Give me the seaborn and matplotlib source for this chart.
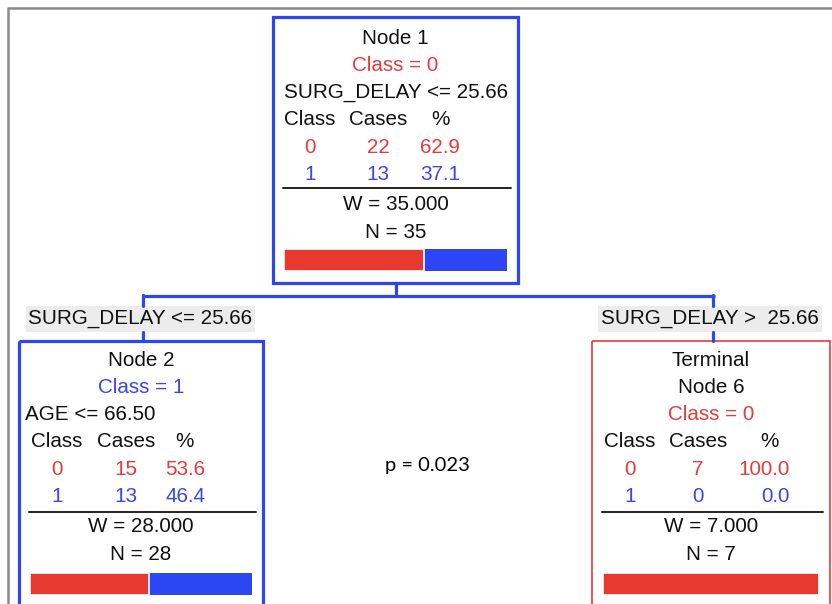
import pandas as pd
import seaborn as sns
import matplotlib.pyplot as plt
from matplotlib.patches import Rectangle

# values
node_heads = [["Node 1", "Class = 0", "SURG_DELAY <= 25.66"],
              ["Node 2", "Class = 1", "AGE <= 66.50"],
              ["Terminal", "Node 6", "Class = 0"]]
classes = ["0", "1"]
cases_0 = [22, 15, 7]
cases_1 = [13, 13, 0]
pct_0 = [62.9, 53.6, 100.0]
pct_1 = [37.1, 46.4, 0.0]
weights = [35.000, 28.000, 7.000]
n_cases = [35, 28, 7]
branch_labels = ["SURG_DELAY <= 25.66", "SURG_DELAY >  25.66"]
p_label = "p = 0.023"

RED = "#E8392F"
BLUE = "#2C46F4"
TXT_RED = "#E83A3A"
TXT_BLUE = "#3B45F0"

sns.set_theme(style="white")
plt.rcParams["font.family"] = ["Liberation Sans", "DejaVu Sans"]

W, H = 832, 604
fig = plt.figure(figsize=(W / 100, H / 100), dpi=100)
ax = fig.add_axes([0, 0, 1, 1])
ax.set_xlim(0, W)
ax.set_ylim(H, 0)
ax.axis("off")

# layout of each node box: left, top, right, bottom, edge colour, edge width, text shift
boxes = [(273, 17, 518, 283, BLUE, 2.3, 2),
         (19, 341, 263, 612, BLUE, 2.3, 0),
         (592, 341, 830, 612, "#E8393A", 1.2, 0)]
# column centres (offset from box left) for Class, Cases, right edge of %, % header
cols = [(37, 378 - 273, 187, 440 - 273),
        (38, 126 - 19, 186, 184 - 19),
        (38, 698 - 592, 198, 769 - 592)]
head_colors = [["#111111", TXT_RED, "#111111"],
               ["#111111", TXT_BLUE, "#111111"],
               ["#111111", "#111111", TXT_RED]]
head_align = [["center"] * 3, ["center", "center", "left"], ["center"] * 3]
fs = 14.9

# outer frame
ax.plot([7.5, 7.5, W], [H, 7.5, 7.5], color="#8a8a8a", lw=1.8, solid_capstyle="butt")

for i, (l, t, r, b, ec, lw, sh) in enumerate(boxes):
    ax.add_patch(Rectangle((l, t), r - l, b - t, fill=False, ec=ec, lw=lw))
    cx = (l + r) / 2
    tt = t + sh
    c_cls, c_cases, c_pct_r, c_pct_head = cols[i]
    for k, txt in enumerate(node_heads[i]):
        y = tt + 19 + 27.3 * k
        if head_align[i][k] == "left":
            ax.text(l + 6, y, txt, ha="left", va="center", fontsize=fs, color=head_colors[i][k])
        else:
            ax.text(cx, y, txt, ha="center", va="center", fontsize=fs, color=head_colors[i][k])
    y_hdr = tt + 19 + 27.3 * 3
    ax.text(l + c_cls, y_hdr, "Class", ha="center", va="center", fontsize=fs, color="#111111")
    ax.text(l + c_cases, y_hdr, "Cases", ha="center", va="center", fontsize=fs, color="#111111")
    ax.text(l + c_pct_head, y_hdr, "%", ha="center", va="center", fontsize=fs, color="#111111")
    rows = [(classes[0], cases_0[i], pct_0[i], TXT_RED), (classes[1], cases_1[i], pct_1[i], TXT_BLUE)]
    for k, (cl, n, p, col) in enumerate(rows):
        y = tt + 19 + 27.3 * (4 + k)
        ax.text(l + c_cls, y, cl, ha="center", va="center", fontsize=fs, color=col)
        ax.text(l + c_cases, y, f"{n}", ha="center", va="center", fontsize=fs, color=col)
        ax.text(l + c_pct_r, y, f"{p:.1f}", ha="right", va="center", fontsize=fs, color=col)
    ax.plot([l + 10, r - 7], [t + 171, t + 171], color="#222222", lw=1.4)
    ax.text(cx, tt + 186, f"W = {weights[i]:.3f}", ha="center", va="center", fontsize=fs, color="#111111")
    ax.text(cx, tt + 213, f"N = {n_cases[i]}", ha="center", va="center", fontsize=fs, color="#111111")

    # class proportion bar
    bx0, bx1 = l + 11, r - 11
    by0, by1 = t + 232, t + 254
    bar_ax = fig.add_axes([bx0 / W, 1 - by1 / H, (bx1 - bx0) / W, (by1 - by0) / H])
    df_bar = pd.DataFrame({"node": ["n"], "total": [pct_0[i] + pct_1[i]], "p0": [pct_0[i]]})
    sns.barplot(data=df_bar, x="total", y="node", orient="h", color=BLUE, width=1,
                saturation=1, ax=bar_ax, edgecolor="none")
    sns.barplot(data=df_bar, x="p0", y="node", orient="h", color=RED, width=1,
                saturation=1, ax=bar_ax, edgecolor="white", linewidth=1.2)
    bar_ax.set_xlim(0, 100)
    bar_ax.set_ylim(0.5, -0.5)
    bar_ax.axis("off")

# connectors
ax.plot([396, 396], [283, 296], color=BLUE, lw=2.3)
ax.plot([141.5, 714.5], [296, 296], color=BLUE, lw=2.3, solid_capstyle="butt")
for x in (143, 713):
    ax.plot([x, x], [295, 306], color=BLUE, lw=2.3)
    ax.plot([x, x], [332, 341], color=BLUE, lw=2.3)

# branch labels
label_boxes = [(26, 255), (598, 822)]
for (x0, x1), lab in zip(label_boxes, branch_labels):
    ax.add_patch(Rectangle((x0, 306), x1 - x0, 26, fc="#ececec", ec="none"))
    ax.text((x0 + x1) / 2, 319, lab, ha="center", va="center", fontsize=fs, color="#111111")

ax.text(427, 466, p_label, ha="center", va="center", fontsize=14.5,
        family=["Lato", "DejaVu Sans"], color="#000000")

plt.savefig("out.png", dpi=100)
